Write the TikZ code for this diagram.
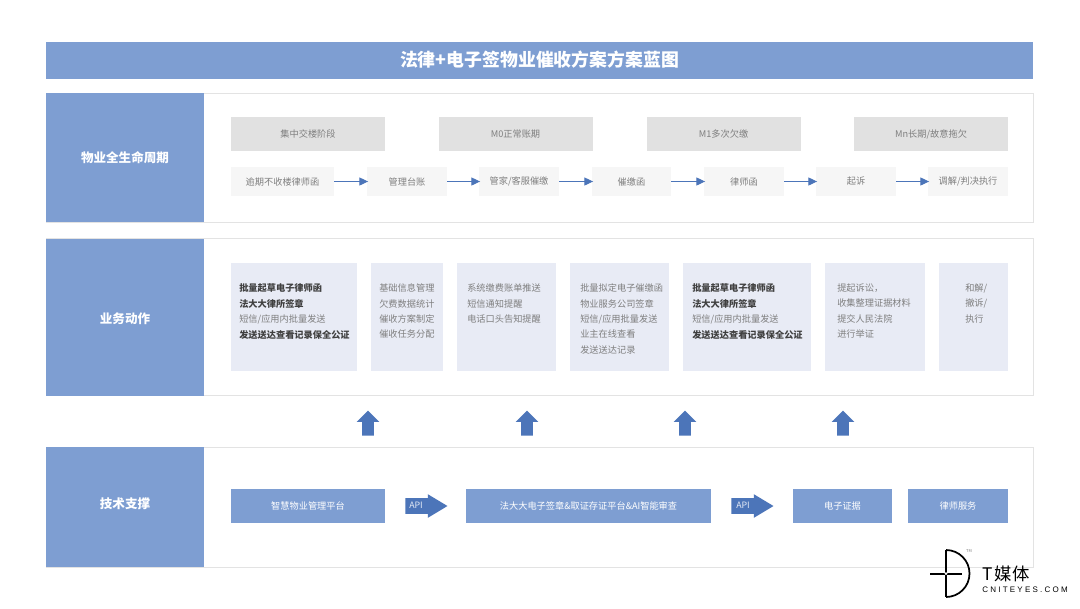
\documentclass[tikz,border=0pt]{standalone}
\usepackage{fontspec}
\setmainfont{Noto Sans CJK SC}
\newfontfamily\logofont[LetterSpace=28]{Liberation Sans}
\newfontfamily\logocjk[LetterSpace=8]{Noto Sans CJK SC}
\usetikzlibrary{arrows.meta, shapes.arrows}
\newcommand{\px}{0.75pt}
\definecolor{mainblue}{HTML}{7E9ED2}
\definecolor{arrowblue}{HTML}{4C75B9}
\definecolor{panelline}{HTML}{E3E3E3}
\definecolor{stagegray}{HTML}{E1E1E1}
\definecolor{steplight}{HTML}{F6F6F6}
\definecolor{actfill}{HTML}{E8EBF5}
\definecolor{softtext}{HTML}{7F7F7F}
\definecolor{darktext}{HTML}{404040}
\tikzset{
  titlebar/.style={fill=mainblue, text=white, inner sep=0pt, font=\fontsize{13.4}{16}\selectfont\bfseries},
  panel/.style={draw=panelline, fill=white, line width=0.6pt, inner sep=0pt},
  sidebar/.style={fill=mainblue, inner sep=0pt},
  sidetext/.style={text=white, inner sep=0pt, font=\fontsize{9.4}{12}\selectfont\bfseries},
  stagebox/.style={fill=stagegray, text=softtext, inner sep=0pt, minimum height=34*\px, font=\fontsize{6.9}{9}\selectfont},
  stepbox/.style={fill=steplight, text=softtext, inner sep=0pt, minimum height=29*\px, font=\fontsize{6.9}{9}\selectfont},
  flow/.style={draw=arrowblue, line width=0.7pt, -{Triangle[length=6.5pt, width=6pt]}, shorten >=-1pt},
  actbox/.style={fill=actfill, inner sep=0pt, minimum height=108*\px},
  acttext/.style={anchor=north west, inner sep=0pt, align=left, text=softtext, font=\fontsize{6.9}{11.6}\selectfont},
  uparrow/.style={single arrow, fill=arrowblue, shape border rotate=90, inner sep=0pt, text width=11*\px, text height=11*\px, text depth=0pt, minimum height=25*\px, single arrow head extend=5.5*\px},
  techbox/.style={fill=mainblue, text=white, inner sep=0pt, minimum height=34*\px, font=\fontsize{6.9}{9}\selectfont},
  apiarrow/.style={single arrow, fill=arrowblue, inner sep=0pt, text width=15*\px, text height=15*\px, text depth=0pt, minimum height=42*\px, single arrow head extend=4*\px, single arrow tip angle=62},
  apitext/.style={text=white!85!arrowblue, inner sep=0pt, font=\fontsize{6.6}{8}\selectfont},
  logoline/.style={line width=1.3pt, black}
}
\begin{document}
\begin{tikzpicture}[x=0.75pt, y=-0.75pt]
\useasboundingbox (0,0) rectangle (1080,608);

% Title
\node[titlebar, minimum width=987*\px, minimum height=37*\px] (title) at (539.5,60) {法律+电子签物业催收方案方案蓝图};

% Lifecycle row
\node[panel, minimum width=987*\px, minimum height=129*\px] (panel1) at (539.5,157.5) {};
\node[sidebar, minimum width=158*\px, minimum height=129*\px] (side1) at (125,157.5) {};
\node[sidetext] (sidetext1) at (125,157.5) {物业全生命周期};
\node[stagebox, minimum width=154*\px] (stage1) at (308,134) {集中交楼阶段};
\node[stagebox, minimum width=154*\px] (stage2) at (515.5,134) {M0正常账期};
\node[stagebox, minimum width=154*\px] (stage3) at (723.5,134) {M1多次欠缴};
\node[stagebox, minimum width=154*\px] (stage4) at (931,134) {Mn长期/故意拖欠};
\node[stepbox, minimum width=103*\px] (step1) at (282.5,181.5) {逾期不收楼律师函};
\node[stepbox, minimum width=80*\px] (step2) at (407,181.5) {管理台账};
\node[stepbox, minimum width=80*\px] (step3) at (519,181.5) {管家/客服催缴};
\node[stepbox, minimum width=79*\px] (step4) at (631.5,181.5) {催缴函};
\node[stepbox, minimum width=80*\px] (step5) at (744,181.5) {律师函};
\node[stepbox, minimum width=80*\px] (step6) at (856,181.5) {起诉};
\node[stepbox, minimum width=80*\px] (step7) at (968,181.5) {调解/判决执行};
\draw[flow] (step1) -- (step2);
\draw[flow] (step2) -- (step3);
\draw[flow] (step3) -- (step4);
\draw[flow] (step4) -- (step5);
\draw[flow] (step5) -- (step6);
\draw[flow] (step6) -- (step7);

% Business actions row
\node[panel, minimum width=987*\px, minimum height=157*\px] (panel2) at (539.5,317) {};
\node[sidebar, minimum width=158*\px, minimum height=157*\px] (side2) at (125,317) {};
\node[sidetext] (sidetext2) at (125,318.5) {业务动作};
\node[actbox, minimum width=126*\px] (act1) at (294,317) {};
\node[actbox, minimum width=72*\px] (act2) at (407,317) {};
\node[actbox, minimum width=99*\px] (act3) at (506.5,317) {};
\node[actbox, minimum width=99*\px] (act4) at (619.5,317) {};
\node[actbox, minimum width=128*\px] (act5) at (747,317) {};
\node[actbox, minimum width=100*\px] (act6) at (875,317) {};
\node[actbox, minimum width=69*\px] (act7) at (973.5,317) {};
\node[acttext] (acttext1) at (239,283.5) {\textcolor{darktext}{\bfseries 批量起草电子律师函}\\\textcolor{darktext}{\bfseries 法大大律所签章}\\短信/应用内批量发送\\\textcolor{darktext}{\bfseries 发送送达查看记录保全公证}};
\node[acttext] (acttext2) at (379,283.5) {基础信息管理\\欠费数据统计\\催收方案制定\\催收任务分配};
\node[acttext] (acttext3) at (467,283.5) {系统缴费账单推送\\短信通知提醒\\电话口头告知提醒};
\node[acttext] (acttext4) at (580,283.5) {批量拟定电子催缴函\\物业服务公司签章\\短信/应用批量发送\\业主在线查看\\发送送达记录};
\node[acttext] (acttext5) at (692,283.5) {\textcolor{darktext}{\bfseries 批量起草电子律师函}\\\textcolor{darktext}{\bfseries 法大大律所签章}\\短信/应用内批量发送\\\textcolor{darktext}{\bfseries 发送送达查看记录保全公证}};
\node[acttext] (acttext6) at (837,283.5) {提起诉讼，\\收集整理证据材料\\提交人民法院\\进行举证};
\node[acttext] (acttext7) at (965,283.5) {和解/\\撤诉/\\执行};

% Block arrows between rows
\node[uparrow] (up1) at (368,426) {};
\node[uparrow] (up2) at (527,426) {};
\node[uparrow] (up3) at (685,426) {};
\node[uparrow] (up4) at (843,426) {};

% Technical support row
\node[panel, minimum width=987*\px, minimum height=120*\px] (panel3) at (539.5,507) {};
\node[sidebar, minimum width=158*\px, minimum height=120*\px] (side3) at (125,507) {};
\node[sidetext] (sidetext3) at (125,503.5) {技术支撑};
\node[techbox, minimum width=154*\px] (tech1) at (308,506) {智慧物业管理平台};
\node[techbox, minimum width=245*\px] (tech2) at (588.5,506) {法大大电子签章\&取证存证平台\&AI智能审查};
\node[techbox, minimum width=99*\px] (tech3) at (842.5,506) {电子证据};
\node[techbox, minimum width=100*\px] (tech4) at (958,506) {律师服务};
\node[apiarrow] (api1) at (420,506) {};
\node[apiarrow] (api2) at (746,506) {};
\node[apitext] (apitext1) at (416,505.5) {API};
\node[apitext] (apitext2) at (743,505.5) {API};

% Logo
\draw[logoline] (946,550) -- (946,597);
\draw[logoline] (946,550) arc (-90:90:23.5);
\draw[logoline] (930,573.7) -- (962,573.7);
\fill[white] (946,573.7) circle (1.5);
\node[inner sep=0pt, font=\fontsize{3}{4}\selectfont, text=gray] (logotm) at (969,551) {TM};
\node[inner sep=0pt, anchor=west, font=\fontsize{13}{15}\selectfont\logocjk] (logoname) at (982,574) {T媒体};
\node[inner sep=0pt, anchor=west, font=\fontsize{6}{8}\selectfont\logofont] (logourl) at (982,589.5) {CNITEYES.COM};
\end{tikzpicture}
\end{document}
